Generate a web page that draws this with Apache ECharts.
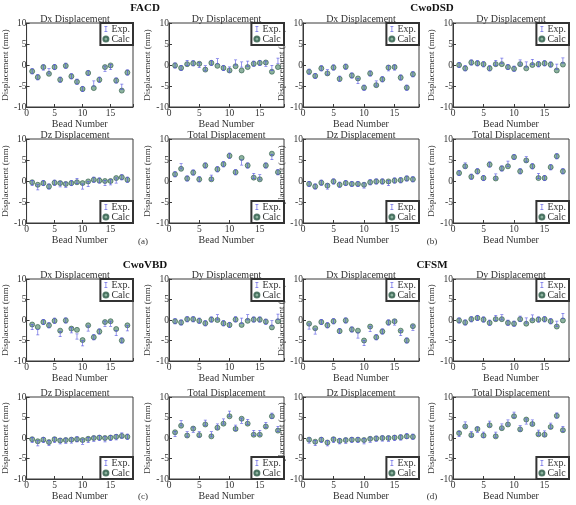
<!DOCTYPE html>
<html><head><meta charset="utf-8">
<script src="https://cdn.jsdelivr.net/npm/echarts@6/dist/echarts.min.js"></script>
<style>html,body{margin:0;padding:0;background:#fff}#c{width:576px;height:505px}</style>
</head><body><div id="c"></div>
<script>
const beads = [1,2,3,4,5,6,7,8,9,10,11,12,13,14,15,16,17,18];
const xTickLabels = [0,5,10,15];
const yTickLabels = [-10,-5,0,5,10];
const seriesNames = ['Exp.','Calc'];
const groupTitles = ['FACD','CwoDSD','CwoVBD','CFSM'];
const panelLetters = ['(a)','(b)','(c)','(d)'];

// (a) FACD
const aDxExp   = [-1.5,-2.9,-0.6,-1.5,-0.5,-3.5,-0.2,-2.7,-4.0,-5.7,-1.9,-4.4,-3.5,-0.9,-0.5,-3.7,-5.2,-1.8];
const aDxCalc  = [-1.5,-2.9,-0.5,-2.1,-0.5,-3.5,-0.2,-2.7,-4.0,-5.7,-1.9,-5.5,-3.5,-0.5,-0.1,-3.7,-6.1,-1.8];
const aDyExp   = [-0.1,-0.7,0.5,0.4,0.0,-0.8,0.5,0.9,-0.7,-1.1,0.6,0.1,0.3,0.3,0.5,0.3,-0.7,1.0];
const aDyCalc  = [-0.1,-0.7,0.2,0.4,0.3,-1.1,0.5,-0.2,-0.7,-1.3,-0.3,-1.3,-0.5,0.3,0.5,0.6,-1.6,-0.5];
const aDzExp   = [-0.5,-1.5,-0.5,-1.3,-0.4,-0.8,-0.9,-0.5,0.0,-1.3,-0.7,0.3,0.1,-0.5,-0.3,0.1,0.9,0.3];
const aDzCalc  = [-0.3,-0.9,-0.5,-1.3,-0.4,-0.5,-0.7,-0.5,-0.3,-0.5,-0.1,0.3,0.1,0.0,0.0,0.7,0.9,0.3];
const aTotExp  = [1.6,3.5,0.6,2.0,0.4,3.7,0.8,2.8,4.0,6.0,2.1,4.4,3.7,1.2,0.9,3.7,5.7,2.1];
const aTotCalc = [1.6,2.9,0.6,2.0,0.4,3.7,0.4,2.8,4.0,6.0,2.1,5.5,3.7,0.8,0.4,3.7,6.5,2.1];
// (b) CwoDSD
const bDxExp   = [-1.6,-2.6,-0.8,-1.7,-0.6,-3.3,-0.4,-2.5,-3.8,-5.4,-2.0,-4.4,-3.4,-0.8,-0.6,-3.0,-5.4,-2.2];
const bDxCalc  = [-1.6,-2.6,-0.8,-2.0,-0.6,-3.3,-0.4,-2.5,-3.2,-5.4,-2.0,-4.8,-3.4,-0.6,-0.5,-3.0,-5.4,-2.2];
const bDyExp   = [0.0,-0.8,0.6,0.4,0.2,-0.8,0.5,1.0,-0.5,-0.9,0.6,0.1,0.7,0.2,0.4,0.1,-0.4,1.1];
const bDyCalc  = [0.0,-0.8,0.6,0.4,0.2,-0.8,0.2,0.2,-0.5,-0.9,0.2,-0.8,0.0,0.2,0.4,0.1,-1.3,0.1];
const bDzExp   = [-0.7,-1.3,-0.4,-1.3,-0.1,-0.9,-0.5,-0.7,-0.7,-1.1,-0.3,-0.1,-0.1,-0.5,0.1,0.2,0.6,0.4];
const bDzCalc  = [-0.7,-1.3,-0.4,-1.1,-0.1,-0.9,-0.5,-0.7,-0.7,-0.9,-0.3,-0.1,-0.1,-0.1,0.1,0.2,0.6,0.4];
const bTotExp  = [1.9,3.7,1.0,2.3,0.7,3.9,1.1,3.0,4.1,5.7,2.3,5.2,3.5,1.2,0.7,3.3,5.9,2.3];
const bTotCalc = [1.9,3.5,1.0,2.3,0.7,3.9,0.6,3.0,3.5,5.7,2.3,4.9,3.5,0.7,0.7,3.3,5.9,2.3];
// (c) CwoVBD
const cDxExp   = [-1.7,-3.0,-0.5,-1.3,-0.2,-3.4,-0.1,-2.5,-4.0,-5.7,-2.1,-4.2,-2.8,-0.9,-0.9,-3.2,-5.0,-2.0];
const cDxCalc  = [-1.1,-1.7,-0.5,-1.3,-0.2,-2.6,-0.1,-2.1,-2.4,-4.9,-1.3,-4.2,-2.8,-0.5,-0.3,-2.2,-5.0,-1.3];
const cDyExp   = [-0.3,-0.6,0.2,0.2,-0.2,-0.8,0.1,0.7,-0.8,-1.2,0.2,-0.2,0.7,0.1,0.1,-0.4,-0.8,0.8];
const cDyCalc  = [-0.3,-0.6,0.2,0.2,-0.2,-0.8,0.1,0.0,-0.8,-1.2,0.1,-1.2,-0.2,0.1,0.1,-0.4,-1.8,-0.3];
const cDzExp   = [-0.5,-1.3,-0.5,-1.2,-0.5,-0.8,-0.7,-0.6,-0.3,-0.9,-0.5,-0.2,0.0,-0.3,0.0,0.2,0.6,0.3];
const cDzCalc  = [-0.3,-0.8,-0.4,-1.0,-0.3,-0.6,-0.5,-0.4,-0.3,-0.5,-0.2,0.0,0.1,0.0,0.1,0.3,0.5,0.3];
const cTotExp  = [1.0,3.6,0.9,2.0,0.9,3.7,0.9,2.8,4.0,5.9,2.5,4.2,3.9,1.2,1.2,3.2,5.4,2.2];
const cTotCalc = [1.4,3.0,0.6,2.3,0.7,3.3,0.4,2.5,3.5,5.3,2.2,4.7,3.5,0.8,0.8,2.8,5.3,1.8];
// (d) CFSM
const dDxExp   = [-1.6,-2.8,-0.5,-1.3,-0.3,-2.7,-0.1,-2.3,-3.8,-5.6,-2.2,-4.2,-2.8,-0.6,-0.6,-3.2,-5.0,-1.9];
const dDxCalc  = [-0.9,-2.0,-0.5,-1.3,-0.3,-2.7,-0.1,-2.3,-2.6,-5.0,-1.6,-4.2,-2.8,-0.6,-0.3,-2.6,-5.0,-1.5];
const dDyExp   = [-0.1,-0.6,0.2,0.5,0.1,-0.7,0.5,0.7,-0.7,-0.9,0.3,-0.1,0.6,0.1,0.2,-0.3,-0.9,1.0];
const dDyCalc  = [-0.1,-0.6,0.2,0.5,0.1,-0.7,0.2,0.2,-0.7,-0.9,0.2,-0.9,-0.1,0.1,0.2,-0.3,-1.6,-0.1];
const dDzExp   = [-0.6,-1.2,-0.5,-1.3,-0.5,-0.8,-0.7,-0.5,-0.5,-0.8,-0.4,-0.2,-0.1,-0.2,0.0,0.1,0.5,0.3];
const dDzCalc  = [-0.4,-0.9,-0.4,-1.1,-0.3,-0.7,-0.5,-0.4,-0.4,-0.5,-0.2,-0.1,0.0,0.0,0.1,0.2,0.4,0.3];
const dTotExp  = [1.0,3.3,0.9,2.0,0.8,3.5,0.8,2.8,3.8,5.7,2.4,4.0,3.8,1.3,1.1,3.0,5.5,2.2];
const dTotCalc = [1.2,2.8,0.7,2.2,0.6,3.1,0.4,2.4,3.3,5.3,2.1,4.5,3.4,0.9,0.8,2.7,5.4,1.9];

const panels = [
  {t:'Dx Displacement', e:aDxExp, c:aDxCalc, col:0, row:0, leg:'top'},
  {t:'Dy Displacement', e:aDyExp, c:aDyCalc, col:1, row:0, leg:'top'},
  {t:'Dz Displacement', e:aDzExp, c:aDzCalc, col:0, row:1, leg:'bottom'},
  {t:'Total Displacement', e:aTotExp, c:aTotCalc, col:1, row:1, leg:'bottom'},
  {t:'Dx Displacement', e:bDxExp, c:bDxCalc, col:2, row:0, leg:'top'},
  {t:'Dy Displacement', e:bDyExp, c:bDyCalc, col:3, row:0, leg:'top'},
  {t:'Dz Displacement', e:bDzExp, c:bDzCalc, col:2, row:1, leg:'bottom'},
  {t:'Total Displacement', e:bTotExp, c:bTotCalc, col:3, row:1, leg:'bottom'},
  {t:'Dx Displacement', e:cDxExp, c:cDxCalc, col:0, row:2, leg:'top'},
  {t:'Dy Displacement', e:cDyExp, c:cDyCalc, col:1, row:2, leg:'top'},
  {t:'Dz Displacement', e:cDzExp, c:cDzCalc, col:0, row:3, leg:'bottom'},
  {t:'Total Displacement', e:cTotExp, c:cTotCalc, col:1, row:3, leg:'bottom'},
  {t:'Dx Displacement', e:dDxExp, c:dDxCalc, col:2, row:2, leg:'top'},
  {t:'Dy Displacement', e:dDyExp, c:dDyCalc, col:3, row:2, leg:'top'},
  {t:'Dz Displacement', e:dDzExp, c:dDzCalc, col:2, row:3, leg:'bottom'},
  {t:'Total Displacement', e:dTotExp, c:dTotCalc, col:3, row:3, leg:'bottom'}
];

const FONT = '"Liberation Serif", "DejaVu Serif", serif';
const colLeft = [17,169,303,453];
const W = 116;
const rowTop = [23,139,279,397];
const rowH = [84,84,82,82];
const EXP_COLOR = '#5050e0';
const CALC_COLOR = '#6f9f86';
const expSymbol = 'path://M0,0H4V1H2.5V7H4V8H0V7H1.5V1H0Z';

const grid=[], xAxis=[], yAxis=[], series=[], legend=[], graphic=[];
panels.forEach((p,i)=>{
  const L = colLeft[p.col], T = rowTop[p.row], H = rowH[p.row];
  grid.push({left:L, top:T, width:(p.col===1?115:W), height:H, show:true, borderColor:'#3a3a3a', borderWidth:1, backgroundColor:'#fff'});
  const GW = (p.col===1?115:W);
  xAxis.push({gridIndex:i, type:'value', min:0, max:19, interval:5,
    axisLine:{show:true, onZero:false, lineStyle:{color:'#3a3a3a'}},
    axisTick:{inside:true, length:3, lineStyle:{color:'#3a3a3a'}},
    axisLabel:{fontFamily:FONT, fontSize:9.5, color:'#333', margin:1,
      formatter:v=> xTickLabels.includes(v) ? String(v) : ''},
    splitLine:{show:false},
    name:'Bead Number', nameLocation:'middle', nameGap:9,
    nameTextStyle:{fontFamily:FONT, fontSize:10, color:'#333'}});
  yAxis.push({gridIndex:i, type:'value', min:-10, max:10, interval:5,
    axisLine:{show:true, onZero:false, lineStyle:{color:'#3a3a3a'}},
    axisTick:{inside:true, length:3, lineStyle:{color:'#3a3a3a'}},
    axisLabel:{fontFamily:FONT, fontSize:9.5, color:'#333', margin:0,
      formatter:v=> yTickLabels.includes(v) ? String(v) : ''},
    splitLine:{show:false},
    name:'Displacement (mm)', nameLocation:'middle', nameGap:6,
    nameTextStyle:{fontFamily:FONT, fontSize:9, color:'#333'}});
  series.push({type:'scatter', name:seriesNames[1], xAxisIndex:i, yAxisIndex:i,
    data: beads.map((b,k)=>[b,p.c[k]]), symbol:'circle', symbolSize:5,
    itemStyle:{color:CALC_COLOR, borderColor:'#2d5a47', borderWidth:0.8}, z:2, silent:true});
  series.push({type:'scatter', name:seriesNames[0], xAxisIndex:i, yAxisIndex:i,
    data: beads.map((b,k)=>[b,p.e[k]]), symbol:expSymbol, symbolSize:[3,6],
    itemStyle:{color:EXP_COLOR}, z:3, silent:true});
  const lg = {data:[{name:seriesNames[0], icon:expSymbol},{name:seriesNames[1], icon:'circle'}],
    orient:'vertical', right:576-(L+GW), itemWidth:5, itemHeight:6, itemGap:0,
    padding:[1,3,1,2], borderColor:'#333', borderWidth:2, backgroundColor:'#fff',
    textStyle:{fontFamily:FONT, fontSize:10, color:'#333', padding:[0,0,0,-2]}, selectedMode:false, z:10};
  if (p.leg==='top') lg.top = T; else lg.bottom = 505-(T+H);
  legend.push(lg);
  graphic.push({type:'text', x:L+GW/2, y:T+1, z:20,
    style:{text:p.t, fontFamily:FONT, fontSize:10, fill:'#333', textAlign:'center', textVerticalAlign:'bottom'}});
});
[[145,8],[432,8],[145,265],[432,265]].forEach((pos,i)=>{
  graphic.push({type:'text', x:pos[0], y:pos[1], style:{text:groupTitles[i], fontFamily:FONT, fontSize:11, fontWeight:'bold', fill:'#111', textAlign:'center', textVerticalAlign:'middle'}});
});
[[143,242],[432,242],[143,497],[432,497]].forEach((pos,i)=>{
  graphic.push({type:'text', x:pos[0], y:pos[1], style:{text:panelLetters[i], fontFamily:FONT, fontSize:9, fill:'#333', textAlign:'center', textVerticalAlign:'middle'}});
});

const chart = echarts.init(document.getElementById('c'), null, {renderer:'canvas'});
chart.setOption({animation:false, backgroundColor:'#fff', grid, xAxis, yAxis, series, legend, graphic});
</script></body></html>
